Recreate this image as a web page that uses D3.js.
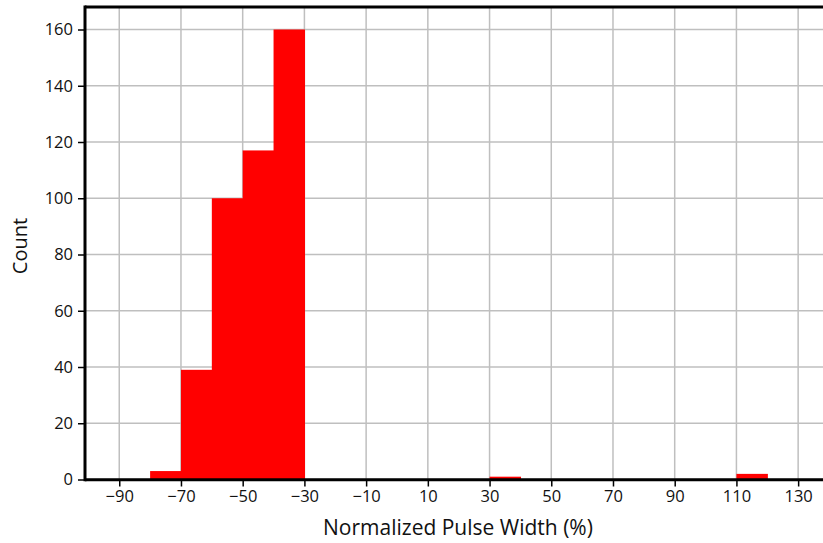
<!DOCTYPE html>
<html>
<head>
<meta charset="utf-8">
<script src="https://cdn.jsdelivr.net/npm/d3@7"></script>
<style>
  html, body { margin: 0; padding: 0; background: #fff; overflow: hidden; }
  svg { display: block; }
</style>
</head>
<body>
<svg id="chart" width="823" height="543"></svg>
<script>
// Histogram bins (left edge, right edge) and counts
const binStarts = [-80, -70, -60, -50, -40, 30, 110];
const binEnds   = [-70, -60, -50, -40, -30, 40, 120];
const counts    = [3, 39, 100, 117, 160, 1, 2];
const xTicks = [-90, -70, -50, -30, -10, 10, 30, 50, 70, 90, 110, 130];
const yTicks = [0, 20, 40, 60, 80, 100, 120, 140, 160];
const xLabel = "Normalized Pulse Width (%)";
const yLabel = "Count";

(function () {
const svg = d3.select("#chart");
const W = 823, H = 543;
const pLeft = 85, pTop = 7, pBottom = 479.5, pRight = 829;

const x = d3.scaleLinear().domain([-101.1, 140]).range([pLeft, pRight]);
const y = d3.scaleLinear().domain([0, 168]).range([pBottom, pTop]);

const font = "'Open Sans', Lato, sans-serif";

// grid
const grid = svg.append("g");
grid.selectAll("line.vx").data(xTicks).join("line")
  .attr("x1", d => x(d)).attr("x2", d => x(d))
  .attr("y1", pTop).attr("y2", pBottom)
  .attr("stroke", "#bfbfbf").attr("stroke-width", 1.5);
grid.selectAll("line.hy").data(yTicks).join("line")
  .attr("x1", pLeft).attr("x2", W)
  .attr("y1", d => y(d)).attr("y2", d => y(d))
  .attr("stroke", "#bfbfbf").attr("stroke-width", 1.5);

// bars (slightly overlapped to avoid anti-aliasing seams)
const bins = counts.map((c, i) => ({ x0: binStarts[i], x1: binEnds[i], c }));
svg.append("g")
  .selectAll("rect").data(bins).join("rect")
  .attr("x", d => x(d.x0))
  .attr("width", d => x(d.x1) - x(d.x0) + 0.6)
  .attr("y", d => y(d.c))
  .attr("height", d => y(0) - y(d.c))
  .attr("fill", "#ff0000");

// axes
const xAxis = d3.axisBottom(x).tickValues(xTicks)
  .tickFormat(d => (d < 0 ? "\u2212" + Math.abs(d) : String(d)))
  .tickSize(7).tickSizeOuter(0).tickPadding(4);
const gx = svg.append("g").attr("transform", `translate(0,${pBottom})`).call(xAxis);
gx.select(".domain").remove();
gx.selectAll(".tick line").attr("stroke", "#000").attr("stroke-width", 1.5);
gx.selectAll(".tick text").attr("font-family", font).attr("font-size", 16.5).attr("fill", "#111");

const yAxis = d3.axisLeft(y).tickValues(yTicks)
  .tickSize(7).tickSizeOuter(0).tickPadding(5);
const gy = svg.append("g").attr("transform", `translate(${pLeft},0)`).call(yAxis);
gy.select(".domain").remove();
gy.selectAll(".tick line").attr("stroke", "#000").attr("stroke-width", 1.5);
gy.selectAll(".tick text").attr("font-family", font).attr("font-size", 16.5).attr("fill", "#111");

// spines
const sp = svg.append("g").attr("stroke", "#000").attr("stroke-width", 3).attr("fill", "none");
sp.append("line").attr("x1", pLeft).attr("x2", W).attr("y1", pTop).attr("y2", pTop);
sp.append("line").attr("x1", pLeft).attr("x2", W).attr("y1", pBottom + 0.3).attr("y2", pBottom + 0.3);
sp.append("line").attr("x1", pLeft).attr("x2", pLeft).attr("y1", pTop - 1.5).attr("y2", pBottom + 1.8);

// labels
svg.append("text").attr("x", 458).attr("y", 535)
  .attr("text-anchor", "middle").attr("font-family", font).attr("font-size", 21)
  .attr("fill", "#111").text(xLabel);
svg.append("text").attr("transform", "translate(27,246) rotate(-90)")
  .attr("text-anchor", "middle").attr("font-family", font).attr("font-size", 20)
  .attr("fill", "#111").text(yLabel);
})();
</script>
</body>
</html>
